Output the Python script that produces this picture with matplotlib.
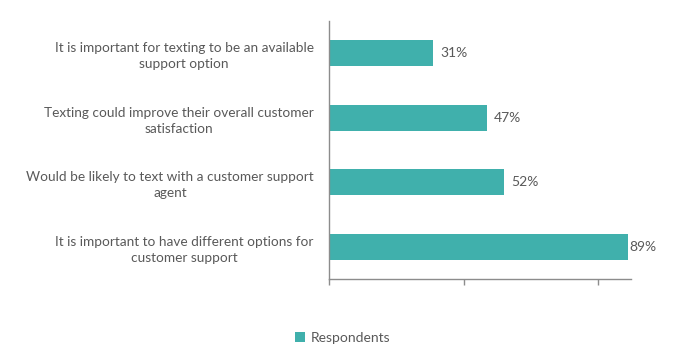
import matplotlib.pyplot as plt
import numpy as np

plt.rcParams['font.family'] = ['Lato', 'DejaVu Sans']

# データ
categories = [
    "It is important for texting to be an available\nsupport option",
    "Texting could improve their overall customer\nsatisfaction",
    "Would be likely to text with a customer support\nagent",
    "It is important to have different options for\ncustomer support",
]
values = [31, 47, 52, 89]
series_name = "Respondents"

bar_color = "#40B0AC"
text_color = "#595959"
axis_color = "#8C8C8C"

fig = plt.figure(figsize=(6.9, 3.6), dpi=100)
ax = fig.add_axes([0.4768, 0.225, 0.4377, 0.7167])

y = np.arange(len(categories))
bars = ax.barh(y, values, height=0.4, color=bar_color, label=series_name)

ax.set_xlim(0, 89.8)
ax.set_ylim(len(categories) - 0.5, -0.5)
ax.set_xticks([0, 40, 80])
ax.set_xticklabels([])
ax.set_yticks(y)
ax.set_yticklabels(categories, fontsize=9.8, color=text_color,
                   multialignment="center", linespacing=1.4)
ax.tick_params(axis="y", length=0, pad=11)
ax.tick_params(axis="x", length=4, width=1, color=axis_color, direction="out")

for s in ["top", "right"]:
    ax.spines[s].set_visible(False)
for s in ["left", "bottom"]:
    ax.spines[s].set_color(axis_color)
    ax.spines[s].set_linewidth(1)

# 値ラベル
for b, v in zip(bars, values):
    pad = 1 if v == max(values) else 5
    ax.annotate(f"{v}%", (b.get_width(), b.get_y() + b.get_height() / 2),
                xytext=(pad, 0), textcoords="offset points",
                va="center", ha="left", fontsize=10, color=text_color,
                annotation_clip=False)

leg = fig.legend(loc="center", bbox_to_anchor=(0.497, 0.062), frameon=False,
                 handlelength=0.7, handleheight=0.7, handletextpad=0.4,
                 fontsize=10)
for t in leg.get_texts():
    t.set_color(text_color)

fig.savefig("out.png", dpi=100)
